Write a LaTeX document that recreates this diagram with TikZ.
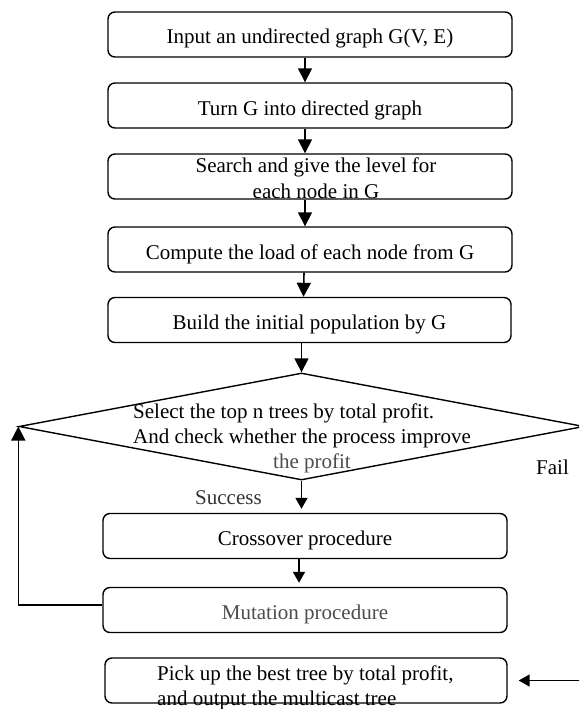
\documentclass[tikz,border=0pt]{standalone}
\usepackage{fontspec}
\setmainfont{Liberation Serif}
\usetikzlibrary{arrows.meta,shapes.geometric}
\begin{document}
\begin{tikzpicture}[x=1pt,y=-1pt,
  font=\fontsize{21}{25}\selectfont,
  box/.style={draw,line width=1.4pt,rounded corners=7pt,minimum width=404pt,
    minimum height=45pt,inner sep=0pt,text height=19pt,text depth=0pt},
  decision/.style={draw,diamond,line width=1.4pt,inner sep=0pt},
  txt/.style={inner sep=0pt},
  arr/.style={line width=1.6pt,-{Triangle[length=14pt,width=14pt]}},
  arrs/.style={line width=1.6pt,-{Triangle[length=11pt,width=12pt]}}]
\useasboundingbox (0,0) rectangle (579,709);
\clip (0,0) rectangle (579,709);

% process boxes
\node[box] (b1) at (310,34.5) {Input an undirected graph G(V, E)};
\node[box] (b2) at (310,105.5) {Turn G into directed graph};
\node[box] (b3) at (310,176.5) {};
\node[txt,anchor=base,align=center,font=\fontsize{21}{26}\selectfont] (t3) at (316,198)
  {Search and give the level for\\each node in G};
\node[box] (b4) at (310,249.5) {Compute the load of each node from G};
\node[box,minimum width=403pt] (b5) at (309.5,320) {Build the initial population by G};

% decision
\node[decision,minimum width=565pt,minimum height=107pt] (dia) at (301.5,426.5) {};
\node[txt,anchor=base west,align=left] (dt) at (133,468)
  {Select the top n trees by total profit.\\And check whether the process improve\\
   \hspace*{140pt}{\color{black!70}the profit}};
\node[txt,anchor=base west] (fail) at (536,474) {Fail};
\node[txt,anchor=base west,text=black!80] (succ) at (195,504) {Success};

% genetic operators and output
\node[box] (cr) at (305,536) {Crossover procedure};
\node[box,text=black!70] (mu) at (305,610) {Mutation procedure};
\node[box,minimum width=402pt] (pk) at (306,680.5) {};
\node[txt,anchor=base west,align=left] (tp) at (157,705)
  {Pick up the best tree by total profit,\\and output the multicast tree};

% connectors
\draw[arr] ([xshift=-5pt]b1.south) -- ([xshift=-5pt]b2.north);
\draw[arr] ([xshift=-5pt]b2.south) -- ([xshift=-5pt]b3.north);
\draw[arr] ([xshift=-5pt]b3.south) -- ([xshift=-5pt]b4.north);
\draw[arr] ([xshift=-6pt]b4.south) -- ([xshift=-6pt]b5.north);
\draw[arr] (dia.north |- b5.south) -- (dia.north);
\draw[arrs,shorten >=4pt] (dia.south) -- (dia.south |- cr.north);
\draw[arrs,shorten >=4pt] ([xshift=-6pt]cr.south) -- ([xshift=-6pt]mu.north);
\draw[arr] ([yshift=5pt]mu.west) -| (dia.west);
\draw[arrs,shorten >=11pt] (dia.east) -- ++(6,0) |- (pk.east);
\end{tikzpicture}
\end{document}
